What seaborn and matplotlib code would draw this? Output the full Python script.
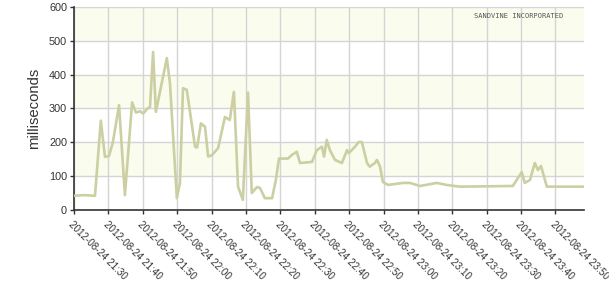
import matplotlib
matplotlib.use("Agg")
import matplotlib.pyplot as plt
import matplotlib.dates as mdates
import seaborn as sns
import pandas as pd

date = "2012-08-24"
times = ["21:30:00", "21:33:00", "21:36:06", "21:37:48", "21:39:00", "21:40:12", "21:41:18",
         "21:43:06", "21:44:48", "21:46:54", "21:48:00", "21:49:12", "21:50:06", "21:51:12",
         "21:52:06", "21:53:00", "21:53:48", "21:57:00", "21:57:54", "21:59:54", "22:00:48",
         "22:01:42", "22:02:48", "22:05:12", "22:05:48", "22:06:54", "22:08:06", "22:09:00",
         "22:10:06", "22:11:54", "22:13:54", "22:15:18", "22:16:30", "22:17:42", "22:19:06",
         "22:20:36", "22:21:42", "22:23:12", "22:24:06", "22:25:30", "22:27:36", "22:28:42",
         "22:29:36", "22:32:12", "22:33:24", "22:34:48", "22:35:42", "22:39:12", "22:40:36",
         "22:42:06", "22:42:42", "22:43:30", "22:44:24", "22:45:54", "22:47:54", "22:49:24",
         "22:49:54", "22:51:42", "22:52:48", "22:53:42", "22:55:12", "22:56:00", "22:57:30",
         "22:58:06", "22:59:00", "22:59:48", "23:01:18", "23:05:36", "23:07:42", "23:10:36",
         "23:15:30", "23:18:24", "23:22:12", "23:37:36", "23:40:12", "23:41:06", "23:42:36",
         "23:44:00", "23:44:54", "23:45:48", "23:47:30", "23:58:18"]
latency_ms = [42, 44, 42, 264, 157, 160, 200,
              310, 44, 318, 288, 292, 285, 298,
              305, 467, 290, 449, 375, 35, 80,
              360, 355, 187, 185, 256, 246, 158,
              162, 183, 275, 266, 349, 69, 30,
              347, 50, 68, 65, 35, 35, 89,
              152, 152, 163, 172, 139, 142, 177,
              187, 158, 207, 177, 148, 139, 177,
              168, 187, 201, 201, 139, 128, 139,
              148, 128, 83, 74, 80, 80, 71,
              80, 74, 69, 71, 112, 80, 89,
              139, 118, 130, 69, 69]
y_ticks = [0, 100, 200, 300, 400, 500, 600]
band_ranges = [(100, 200), (300, 400), (500, 600)]

df = pd.DataFrame({"time": pd.to_datetime([f"{date} {t}" for t in times]),
                   "ms": latency_ms})

sns.set_style("white")
plt.rcParams["font.family"] = ["Liberation Sans", "DejaVu Sans"]

fig = plt.figure(figsize=(6.09, 2.82), dpi=100)
ax = fig.add_axes([74 / 609, 1 - 210 / 282, (584 - 74) / 609, (210 - 7) / 282])

for lo, hi in band_ranges:
    ax.axhspan(lo, hi, color="#fafcee", zorder=0, lw=0)

sns.lineplot(data=df, x="time", y="ms", ax=ax, color="#cbcfa2", linewidth=1.9, zorder=3)

ax.set_xlim(pd.Timestamp(f"{date} 21:30:00"), pd.Timestamp(f"{date} 23:58:18"))
ax.set_ylim(0, 600)
ax.set_yticks(y_ticks)
ax.xaxis.set_major_locator(mdates.MinuteLocator(byminute=[0, 10, 20, 30, 40, 50]))
ax.xaxis.set_major_formatter(mdates.DateFormatter("%Y-%m-%d %H:%M"))
ax.grid(True, color="#d4d4d4", linewidth=1, zorder=1)
ax.set_axisbelow(True)

ax.tick_params(axis="both", labelsize=7.8, colors="#333333", length=3, width=1,
               direction="out", left=True, bottom=True, pad=2)
ax.tick_params(axis="x", labelsize=7.1, pad=4)

for lbl in ax.get_xticklabels():
    lbl.set_rotation(-45)
    lbl.set_ha("left")
    lbl.set_va("top")
    lbl.set_rotation_mode("anchor")

for s in ["top", "right"]:
    ax.spines[s].set_visible(False)
for s in ["left", "bottom"]:
    ax.spines[s].set_color("#333333")
    ax.spines[s].set_linewidth(1.2)

ax.set_xlabel("")
ax.set_ylabel("milliseconds", fontsize=10.7, color="#333333", labelpad=6)

ax.text(0.96, 0.955, "SANDVINE INCORPORATED", transform=ax.transAxes, ha="right", va="center",
        fontsize=5, color="#555555", family=["DejaVu Sans Mono", "DejaVu Sans"])

fig.savefig("out.png", dpi=100)
